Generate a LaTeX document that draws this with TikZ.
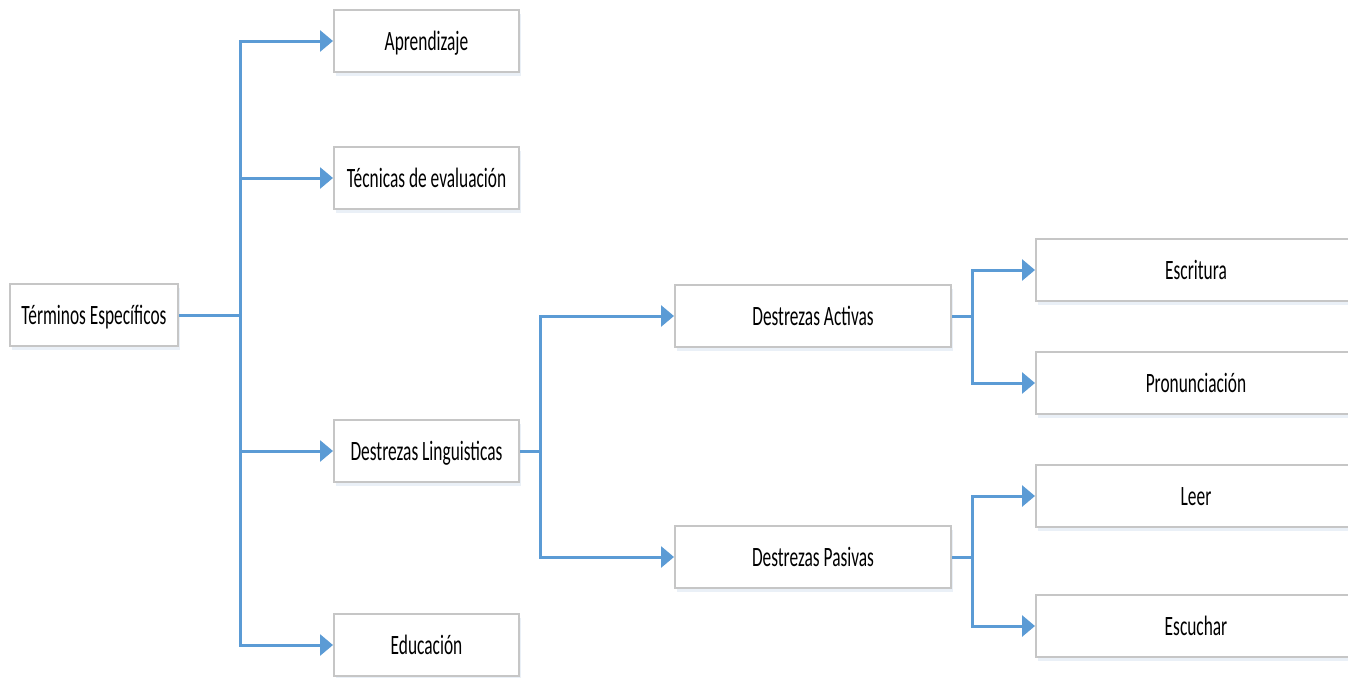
\documentclass[tikz,border=0pt]{standalone}
\usepackage{fontspec}
\setmainfont{Carlito}[FakeStretch=0.62]
\usetikzlibrary{arrows.meta,shadows}
\definecolor{linea}{HTML}{5B9BD5}
\definecolor{borde}{HTML}{C6C6C6}
\definecolor{sombra}{HTML}{DCE6F2}
\tikzset{
  caja/.style={draw=borde,line width=1pt,fill=white,
    drop shadow={shadow xshift=1pt,shadow yshift=-2pt,fill=sombra,opacity=0.6},
    minimum height=31pt,inner sep=0pt,text height=9pt,text depth=0pt,
    font=\fontsize{14pt}{16pt}\selectfont},
  liga/.style={draw=linea,line width=1.5pt},
  flecha/.style={liga,-{Triangle[length=6.5pt,width=10.5pt]}}
}
\begin{document}
\begin{tikzpicture}[x=0.5pt,y=-0.5pt]
\useasboundingbox (0,0) rectangle (1348,677);
% nivel 1
   \node[caja,minimum width=84pt] (term) at (94,315) {Términos Específicos};
% nivel 2
   \node[caja,minimum width=92.5pt] (apr) at (426.5,41) {Aprendizaje};
   \node[caja,minimum width=92.5pt] (tec) at (426.5,178) {Técnicas de evaluación};
   \node[caja,minimum width=92.5pt] (ling) at (426.5,451) {Destrezas Linguisticas};
   \node[caja,minimum width=92.5pt] (edu) at (426.5,645) {Educación};
% nivel 3
   \node[caja,minimum width=138pt] (act) at (813,316) {Destrezas Activas};
   \node[caja,minimum width=138pt] (pas) at (813,557) {Destrezas Pasivas};
% nivel 4
   \node[caja,minimum width=160pt] (esc) at (1196,270) {Escritura};
   \node[caja,minimum width=160pt] (pro) at (1196,383) {Pronunciación};
   \node[caja,minimum width=160pt] (lee) at (1196,496) {Leer};
   \node[caja,minimum width=160pt] (escu) at (1196,626) {Escuchar};
% uniones
   \coordinate (j1) at (240,315);
   \coordinate (j2) at (540,451);
   \coordinate (j3) at (972,316);
   \coordinate (j4) at (972,557);
% conectores
   \draw[liga] (term.east) -- (j1);
   \draw[flecha] (j1) |- (apr.west);
   \draw[flecha] (j1) |- (tec.west);
   \draw[flecha] (j1) |- (ling.west);
   \draw[flecha] (j1) |- (edu.west);
   \draw[liga] (ling.east) -- (j2);
   \draw[flecha] (j2) |- (act.west);
   \draw[flecha] (j2) |- (pas.west);
   \draw[liga] (act.east) -- (j3);
   \draw[flecha] (j3) |- (esc.west);
   \draw[flecha] (j3) |- (pro.west);
   \draw[liga] (pas.east) -- (j4);
   \draw[flecha] (j4) |- (lee.west);
   \draw[flecha] (j4) |- (escu.west);
\end{tikzpicture}
\end{document}
